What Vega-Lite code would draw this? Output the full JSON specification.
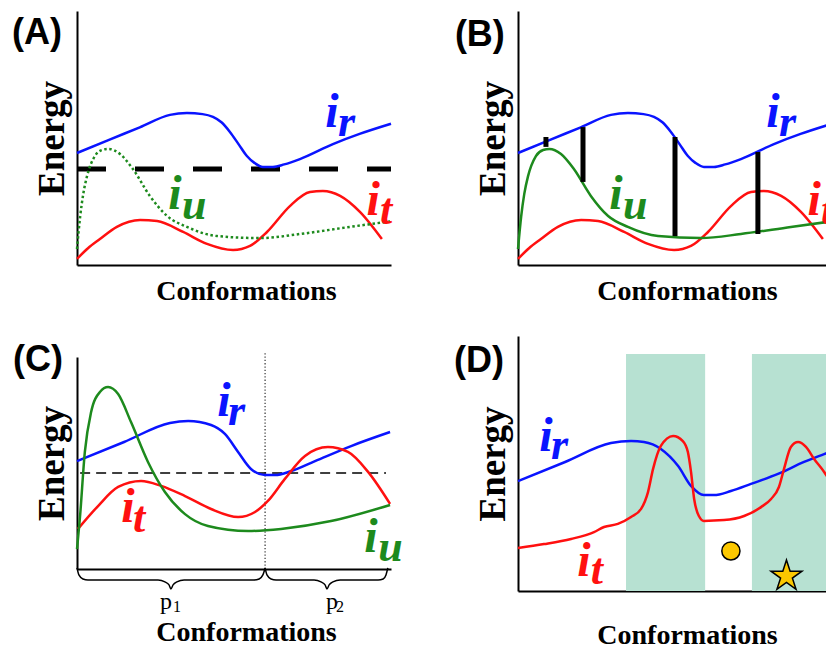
{
  "$schema": "https://vega.github.io/schema/vega-lite/v6.json",
  "background": "white",
  "padding": {"left": 12, "top": 11, "right": 0, "bottom": 0},
  "autosize": {"type": "pad"},
  "config": {
    "view": {"stroke": null},
    "axis": {"domainColor": "black", "domainWidth": 2, "ticks": false, "labels": false, "grid": false, "titleFont": "Liberation Serif", "titleFontWeight": "bold", "titleColor": "black"},
    "axisX": {"titleFontSize": 28, "titleX": 169, "titlePadding": 12},
    "axisY": {"titleFontSize": 37, "titlePadding": 6}
  },
  "datasets": {
    "curvesAB": [
      {"s": "r", "x": 0, "y": 44.1}, {"s": "r", "x": 10, "y": 49.2}, {"s": "r", "x": 20, "y": 54.2}, {"s": "r", "x": 29.6, "y": 59.1}, {"s": "r", "x": 35, "y": 59.8}, {"s": "r", "x": 40, "y": 59.4}, {"s": "r", "x": 43.3, "y": 58.3}, {"s": "r", "x": 46, "y": 56.2}, {"s": "r", "x": 48.7, "y": 52.4}, {"s": "r", "x": 51.5, "y": 47.5}, {"s": "r", "x": 54.1, "y": 42.9}, {"s": "r", "x": 56.5, "y": 40.2}, {"s": "r", "x": 59.2, "y": 38.6}, {"s": "r", "x": 62.4, "y": 38.6}, {"s": "r", "x": 66, "y": 39.6}, {"s": "r", "x": 71, "y": 41.7}, {"s": "r", "x": 81.5, "y": 47.6}, {"s": "r", "x": 90, "y": 51.6}, {"s": "r", "x": 100, "y": 55.6},
      {"s": "t", "x": 0, "y": 2.4}, {"s": "t", "x": 3.5, "y": 6.6}, {"s": "t", "x": 7.3, "y": 10.2}, {"s": "t", "x": 12.7, "y": 15}, {"s": "t", "x": 20.1, "y": 17.7}, {"s": "t", "x": 25.5, "y": 17.3}, {"s": "t", "x": 33.8, "y": 13}, {"s": "t", "x": 41.4, "y": 8.3}, {"s": "t", "x": 49.7, "y": 5.9}, {"s": "t", "x": 55.1, "y": 7.5}, {"s": "t", "x": 60.5, "y": 13}, {"s": "t", "x": 67.8, "y": 23.2}, {"s": "t", "x": 74.2, "y": 28.7}, {"s": "t", "x": 78.3, "y": 29.1}, {"s": "t", "x": 83.8, "y": 27.2}, {"s": "t", "x": 90.1, "y": 20.9}, {"s": "t", "x": 97.1, "y": 10.2},
      {"s": "u", "x": 0, "y": 6.3}, {"s": "u", "x": 1, "y": 19}, {"s": "u", "x": 2, "y": 28}, {"s": "u", "x": 3.2, "y": 35}, {"s": "u", "x": 5.7, "y": 42.9}, {"s": "u", "x": 8, "y": 45.3}, {"s": "u", "x": 10, "y": 45.7}, {"s": "u", "x": 13.7, "y": 43.7}, {"s": "u", "x": 17.8, "y": 37.8}, {"s": "u", "x": 23.2, "y": 27.2}, {"s": "u", "x": 28.7, "y": 19.3}, {"s": "u", "x": 35, "y": 15}, {"s": "u", "x": 44.6, "y": 11.4}, {"s": "u", "x": 58.3, "y": 10.6}, {"s": "u", "x": 71, "y": 12.2}, {"s": "u", "x": 86.9, "y": 15}, {"s": "u", "x": 100, "y": 17.2}
    ],
    "curvesC": [
      {"s": "r", "x": 0, "y": 50.9}, {"s": "r", "x": 15, "y": 59.9}, {"s": "r", "x": 29.6, "y": 68.9}, {"s": "r", "x": 35.4, "y": 69.8}, {"s": "r", "x": 42.7, "y": 67.9}, {"s": "r", "x": 47.1, "y": 63.7}, {"s": "r", "x": 51.3, "y": 55.2}, {"s": "r", "x": 55.4, "y": 47.2}, {"s": "r", "x": 59.9, "y": 44.3}, {"s": "r", "x": 63.1, "y": 44.3}, {"s": "r", "x": 68.2, "y": 46.2}, {"s": "r", "x": 75.8, "y": 50.9}, {"s": "r", "x": 87.3, "y": 58}, {"s": "r", "x": 99.7, "y": 64.6},
      {"s": "t", "x": 0.3, "y": 18.9}, {"s": "t", "x": 6.7, "y": 29.7}, {"s": "t", "x": 13.1, "y": 38.7}, {"s": "t", "x": 20.4, "y": 41.5}, {"s": "t", "x": 26.8, "y": 39.2}, {"s": "t", "x": 34.4, "y": 34.4}, {"s": "t", "x": 42.7, "y": 28.3}, {"s": "t", "x": 51.3, "y": 24.5}, {"s": "t", "x": 56.7, "y": 26.9}, {"s": "t", "x": 60.8, "y": 32.1}, {"s": "t", "x": 66.2, "y": 42.5}, {"s": "t", "x": 72.6, "y": 53.3}, {"s": "t", "x": 79.9, "y": 57.5}, {"s": "t", "x": 86.3, "y": 55.2}, {"s": "t", "x": 92.7, "y": 45.8}, {"s": "t", "x": 99.7, "y": 30.7},
      {"s": "u", "x": 0, "y": 9.4}, {"s": "u", "x": 0.9, "y": 23.6}, {"s": "u", "x": 2.5, "y": 55.2}, {"s": "u", "x": 4.5, "y": 74.1}, {"s": "u", "x": 7.3, "y": 83.5}, {"s": "u", "x": 9.9, "y": 85.8}, {"s": "u", "x": 13.1, "y": 82.5}, {"s": "u", "x": 17.2, "y": 69.3}, {"s": "u", "x": 22.6, "y": 50.5}, {"s": "u", "x": 28, "y": 36.3}, {"s": "u", "x": 34.4, "y": 25.9}, {"s": "u", "x": 41.7, "y": 20.3}, {"s": "u", "x": 54.5, "y": 17.9}, {"s": "u", "x": 65, "y": 18.9}, {"s": "u", "x": 80.9, "y": 22.6}, {"s": "u", "x": 99.7, "y": 30.2}
    ],
    "curvesD": [
      {"s": "r", "x": 0, "y": 43.1}, {"s": "r", "x": 15, "y": 50.6}, {"s": "r", "x": 29.6, "y": 58}, {"s": "r", "x": 36, "y": 58.8}, {"s": "r", "x": 40.1, "y": 58.4}, {"s": "r", "x": 45.5, "y": 55.7}, {"s": "r", "x": 51, "y": 49}, {"s": "r", "x": 55.1, "y": 41.2}, {"s": "r", "x": 59.2, "y": 37.6}, {"s": "r", "x": 62.4, "y": 37.6}, {"s": "r", "x": 67.8, "y": 39.2}, {"s": "r", "x": 74.2, "y": 42}, {"s": "r", "x": 82.8, "y": 45.9}, {"s": "r", "x": 91.1, "y": 50.6}, {"s": "r", "x": 97.5, "y": 53.7}, {"s": "r", "x": 100, "y": 54.9},
      {"s": "t", "x": 0, "y": 16.9}, {"s": "t", "x": 8.3, "y": 18.4}, {"s": "t", "x": 16.9, "y": 20.4}, {"s": "t", "x": 24.2, "y": 23.1}, {"s": "t", "x": 27.4, "y": 25.1}, {"s": "t", "x": 31.8, "y": 26.3}, {"s": "t", "x": 36, "y": 29}, {"s": "t", "x": 39.2, "y": 32.2}, {"s": "t", "x": 41.4, "y": 38.8}, {"s": "t", "x": 43, "y": 47.8}, {"s": "t", "x": 45.5, "y": 56.9}, {"s": "t", "x": 49.4, "y": 60.8}, {"s": "t", "x": 52.5, "y": 58.8}, {"s": "t", "x": 54.1, "y": 54.5}, {"s": "t", "x": 55.1, "y": 46.7}, {"s": "t", "x": 56.1, "y": 36.1}, {"s": "t", "x": 57.6, "y": 29.4}, {"s": "t", "x": 59.2, "y": 27.5}, {"s": "t", "x": 65.6, "y": 27.8}, {"s": "t", "x": 72, "y": 29.4}, {"s": "t", "x": 77.4, "y": 32.9}, {"s": "t", "x": 80.6, "y": 36.1}, {"s": "t", "x": 83.1, "y": 40.8}, {"s": "t", "x": 84.7, "y": 47.8}, {"s": "t", "x": 86.9, "y": 56.5}, {"s": "t", "x": 89.2, "y": 58.4}, {"s": "t", "x": 91.7, "y": 56.5}, {"s": "t", "x": 94.3, "y": 51.8}, {"s": "t", "x": 97.5, "y": 46.7}, {"s": "t", "x": 100, "y": 42}
    ],
    "braces": [
      {"id": 1, "x": 0, "y": 0.5}, {"id": 1, "x": 0.6, "y": -2.8}, {"id": 1, "x": 1.9, "y": -4.7}, {"id": 1, "x": 3.5, "y": -5.2}, {"id": 1, "x": 25.8, "y": -5.2}, {"id": 1, "x": 28, "y": -6.1}, {"id": 1, "x": 29.3, "y": -7.5}, {"id": 1, "x": 29.9, "y": -9.4}, {"id": 1, "x": 30.6, "y": -7.5}, {"id": 1, "x": 31.8, "y": -6.1}, {"id": 1, "x": 34.1, "y": -5.2}, {"id": 1, "x": 56.4, "y": -5.2}, {"id": 1, "x": 58, "y": -4.7}, {"id": 1, "x": 59.2, "y": -2.8}, {"id": 1, "x": 59.9, "y": 0.5},
      {"id": 2, "x": 59.9, "y": 0.5}, {"id": 2, "x": 60.5, "y": -2.8}, {"id": 2, "x": 61.8, "y": -4.7}, {"id": 2, "x": 63.4, "y": -5.2}, {"id": 2, "x": 75.5, "y": -5.2}, {"id": 2, "x": 77.7, "y": -6.1}, {"id": 2, "x": 79, "y": -7.5}, {"id": 2, "x": 79.6, "y": -9.4}, {"id": 2, "x": 80.3, "y": -7.5}, {"id": 2, "x": 81.5, "y": -6.1}, {"id": 2, "x": 83.8, "y": -5.2}, {"id": 2, "x": 95.9, "y": -5.2}, {"id": 2, "x": 97.5, "y": -4.7}, {"id": 2, "x": 98.4, "y": -2.8}, {"id": 2, "x": 99, "y": 0.5}
    ],
    "labels": [
      {"panel": "AB", "kind": "main", "s": "r", "text": "i", "x": 81.2, "y": 54.3}, {"panel": "AB", "kind": "sub", "s": "r", "text": "r", "x": 83.1, "y": 50.8},
      {"panel": "AB", "kind": "main", "s": "u", "text": "i", "x": 31.2, "y": 22}, {"panel": "AB", "kind": "sub", "s": "u", "text": "u", "x": 33.4, "y": 18.1},
      {"panel": "AB", "kind": "main", "s": "t", "text": "i", "x": 94.3, "y": 19.7}, {"panel": "AB", "kind": "sub", "s": "t", "text": "t", "x": 96.5, "y": 16.1},
      {"panel": "C", "kind": "main", "s": "r", "text": "i", "x": 46.8, "y": 72.2}, {"panel": "C", "kind": "sub", "s": "r", "text": "r", "x": 48.1, "y": 67.9},
      {"panel": "C", "kind": "main", "s": "t", "text": "i", "x": 16.2, "y": 22.2}, {"panel": "C", "kind": "sub", "s": "t", "text": "t", "x": 17.8, "y": 17.5},
      {"panel": "C", "kind": "main", "s": "u", "text": "i", "x": 93.6, "y": 8}, {"panel": "C", "kind": "sub", "s": "u", "text": "u", "x": 95.9, "y": 3.8},
      {"panel": "D", "kind": "main", "s": "r", "text": "i", "x": 8.9, "y": 54.9}, {"panel": "D", "kind": "sub", "s": "r", "text": "r", "x": 10.5, "y": 51.8},
      {"panel": "D", "kind": "main", "s": "t", "text": "i", "x": 21, "y": 5.9}, {"panel": "D", "kind": "sub", "s": "t", "text": "t", "x": 23.2, "y": 2.7}
    ],
    "tags": [
      {"panel": "A", "text": "(A)", "x": -20.7, "y": 91.3},
      {"panel": "B", "text": "(B)", "x": -20.1, "y": 90.6},
      {"panel": "C", "text": "(C)", "x": -20.4, "y": 98.6},
      {"panel": "D", "text": "(D)", "x": -20.4, "y": 90.2}
    ],
    "plabels": [
      {"kind": "main", "text": "p", "x": 26.4, "y": -18.9}, {"kind": "sub", "text": "1", "x": 30.6, "y": -20.3},
      {"kind": "main", "text": "p", "x": 79.3, "y": -18.9}, {"kind": "sub", "text": "2", "x": 82.5, "y": -20.3}
    ],
    "rulesAB": [
      {"panel": "A", "kind": "dash", "x": 0, "x2": 100, "y": 37.8, "y2": 37.8},
      {"panel": "B", "kind": "bar", "x": 8.9, "x2": 8.9, "y": 46.5, "y2": 50.4},
      {"panel": "B", "kind": "bar", "x": 20.7, "x2": 20.7, "y": 32.7, "y2": 54.3},
      {"panel": "B", "kind": "bar", "x": 50, "x2": 50, "y": 11.4, "y2": 50.4},
      {"panel": "B", "kind": "bar", "x": 76.4, "x2": 76.4, "y": 12.2, "y2": 44.5}
    ],
    "rulesC": [
      {"kind": "vdot", "x": 59.9, "x2": 59.9, "y": 0, "y2": 102.4},
      {"kind": "hdash", "x": 1, "x2": 98.4, "y": 45.3, "y2": 45.3}
    ],
    "bands": [
      {"x": 34.4, "x2": 59.6, "y": 0, "y2": 92.9},
      {"x": 74.5, "x2": 105, "y": 0, "y2": 92.9}
    ],
    "symbols": [
      {"kind": "circle", "x": 67.8, "y": 15.7},
      {"kind": "star", "x": 85.5, "y": 5.8}
    ]
  },
  "spacing": 441,
  "bounds": "flush",
  "hconcat": [
    {
      "spacing": 92,
      "bounds": "flush",
      "vconcat": [
        {
          "width": 314, "height": 254,
          "encoding": {
            "x": {"field": "x", "type": "quantitative", "scale": {"domain": [0, 100], "nice": false, "zero": false}, "axis": {"title": "Conformations"}},
            "y": {"field": "y", "type": "quantitative", "scale": {"domain": [0, 100], "nice": false, "zero": false}, "axis": {"title": "Energy"}}
          },
          "layer": [
            {"data": {"name": "rulesAB"}, "transform": [{"filter": "datum.panel == 'A'"}], "mark": {"type": "rule", "strokeWidth": 5, "strokeDash": [29, 29], "color": "black"}, "encoding": {"x2": {"field": "x2"}}},
            {"data": {"name": "curvesAB"}, "transform": [{"filter": "datum.s != 'u'"}], "mark": {"type": "line", "interpolate": "monotone", "strokeWidth": 2.5}, "encoding": {"color": {"field": "s", "type": "nominal", "scale": {"domain": ["r", "t", "u"], "range": ["#0a14ff", "#ff1010", "#1d8a1d"]}, "legend": null}}},
            {"data": {"name": "curvesAB"}, "transform": [{"filter": "datum.s == 'u'"}], "mark": {"type": "line", "interpolate": "monotone", "strokeWidth": 2.5, "strokeDash": [2.5, 2.6], "color": "#1d8a1d"}, "encoding": {}},
            {"data": {"name": "labels"}, "transform": [{"filter": "datum.panel == 'AB' && datum.kind == 'main'"}], "mark": {"type": "text", "font": "Liberation Serif", "fontStyle": "italic", "fontWeight": "bold", "fontSize": 48, "align": "center", "baseline": "alphabetic"}, "encoding": {"text": {"field": "text"}, "color": {"field": "s", "type": "nominal", "legend": null}}},
            {"data": {"name": "labels"}, "transform": [{"filter": "datum.panel == 'AB' && datum.kind == 'sub'"}], "mark": {"type": "text", "font": "Liberation Serif", "fontStyle": "italic", "fontWeight": "bold", "fontSize": 44, "align": "left", "baseline": "alphabetic"}, "encoding": {"text": {"field": "text"}, "color": {"field": "s", "type": "nominal", "legend": null}}},
            {"data": {"name": "tags"}, "transform": [{"filter": "datum.panel == 'A'"}], "mark": {"type": "text", "font": "Liberation Sans", "fontWeight": "bold", "fontSize": 36, "align": "left", "baseline": "middle", "color": "black"}, "encoding": {"text": {"field": "text"}}}
          ]
        },
        {
          "width": 314, "height": 212,
          "encoding": {
            "x": {"field": "x", "type": "quantitative", "scale": {"domain": [0, 100], "nice": false, "zero": false}, "axis": {"title": "Conformations", "titlePadding": 49}},
            "y": {"field": "y", "type": "quantitative", "scale": {"domain": [0, 100], "nice": false, "zero": false}, "axis": {"title": "Energy"}}
          },
          "layer": [
            {"data": {"name": "rulesC"}, "transform": [{"filter": "datum.kind == 'vdot'"}], "mark": {"type": "rule", "strokeWidth": 1.2, "strokeDash": [1.3, 2], "color": "#333333"}, "encoding": {"y2": {"field": "y2"}}},
            {"data": {"name": "rulesC"}, "transform": [{"filter": "datum.kind == 'hdash'"}], "mark": {"type": "rule", "strokeWidth": 1.5, "strokeDash": [10, 6], "color": "black"}, "encoding": {"x2": {"field": "x2"}}},
            {"data": {"name": "curvesC"}, "mark": {"type": "line", "interpolate": "monotone", "strokeWidth": 2.5}, "encoding": {"color": {"field": "s", "type": "nominal", "scale": {"domain": ["r", "t", "u"], "range": ["#0a14ff", "#ff1010", "#1d8a1d"]}, "legend": null}}},
            {"data": {"name": "braces"}, "mark": {"type": "line", "interpolate": "monotone", "strokeWidth": 1.5, "color": "black"}, "encoding": {"detail": {"field": "id", "type": "nominal"}}},
            {"data": {"name": "labels"}, "transform": [{"filter": "datum.panel == 'C' && datum.kind == 'main'"}], "mark": {"type": "text", "font": "Liberation Serif", "fontStyle": "italic", "fontWeight": "bold", "fontSize": 48, "align": "center", "baseline": "alphabetic"}, "encoding": {"text": {"field": "text"}, "color": {"field": "s", "type": "nominal", "legend": null}}},
            {"data": {"name": "labels"}, "transform": [{"filter": "datum.panel == 'C' && datum.kind == 'sub'"}], "mark": {"type": "text", "font": "Liberation Serif", "fontStyle": "italic", "fontWeight": "bold", "fontSize": 44, "align": "left", "baseline": "alphabetic"}, "encoding": {"text": {"field": "text"}, "color": {"field": "s", "type": "nominal", "legend": null}}},
            {"data": {"name": "plabels"}, "transform": [{"filter": "datum.kind == 'main'"}], "mark": {"type": "text", "font": "Liberation Serif", "fontSize": 24, "align": "left", "baseline": "alphabetic", "color": "black"}, "encoding": {"text": {"field": "text"}}},
            {"data": {"name": "plabels"}, "transform": [{"filter": "datum.kind == 'sub'"}], "mark": {"type": "text", "font": "Liberation Serif", "fontSize": 16, "align": "left", "baseline": "alphabetic", "color": "black"}, "encoding": {"text": {"field": "text"}}},
            {"data": {"name": "tags"}, "transform": [{"filter": "datum.panel == 'C'"}], "mark": {"type": "text", "font": "Liberation Sans", "fontWeight": "bold", "fontSize": 36, "align": "left", "baseline": "middle", "color": "black"}, "encoding": {"text": {"field": "text"}}}
          ]
        }
      ]
    },
    {
      "spacing": 71,
      "bounds": "flush",
      "vconcat": [
        {
          "width": 314, "height": 254,
          "encoding": {
            "x": {"field": "x", "type": "quantitative", "scale": {"domain": [0, 100], "nice": false, "zero": false}, "axis": {"title": "Conformations"}},
            "y": {"field": "y", "type": "quantitative", "scale": {"domain": [0, 100], "nice": false, "zero": false}, "axis": {"title": "Energy"}}
          },
          "layer": [
            {"data": {"name": "curvesAB"}, "mark": {"type": "line", "interpolate": "monotone", "strokeWidth": 2.5}, "encoding": {"color": {"field": "s", "type": "nominal", "scale": {"domain": ["r", "t", "u"], "range": ["#0a14ff", "#ff1010", "#1d8a1d"]}, "legend": null}}},
            {"data": {"name": "rulesAB"}, "transform": [{"filter": "datum.panel == 'B'"}], "mark": {"type": "rule", "strokeWidth": 5, "color": "black"}, "encoding": {"y2": {"field": "y2"}}},
            {"data": {"name": "labels"}, "transform": [{"filter": "datum.panel == 'AB' && datum.kind == 'main'"}], "mark": {"type": "text", "font": "Liberation Serif", "fontStyle": "italic", "fontWeight": "bold", "fontSize": 48, "align": "center", "baseline": "alphabetic"}, "encoding": {"text": {"field": "text"}, "color": {"field": "s", "type": "nominal", "legend": null}}},
            {"data": {"name": "labels"}, "transform": [{"filter": "datum.panel == 'AB' && datum.kind == 'sub'"}], "mark": {"type": "text", "font": "Liberation Serif", "fontStyle": "italic", "fontWeight": "bold", "fontSize": 44, "align": "left", "baseline": "alphabetic"}, "encoding": {"text": {"field": "text"}, "color": {"field": "s", "type": "nominal", "legend": null}}},
            {"data": {"name": "tags"}, "transform": [{"filter": "datum.panel == 'B'"}], "mark": {"type": "text", "font": "Liberation Sans", "fontWeight": "bold", "fontSize": 36, "align": "left", "baseline": "middle", "color": "black"}, "encoding": {"text": {"field": "text"}}}
          ]
        },
        {
          "width": 314, "height": 255,
          "encoding": {
            "x": {"field": "x", "type": "quantitative", "scale": {"domain": [0, 100], "nice": false, "zero": false}, "axis": {"title": "Conformations", "titlePadding": 30}},
            "y": {"field": "y", "type": "quantitative", "scale": {"domain": [0, 100], "nice": false, "zero": false}, "axis": {"title": "Energy"}}
          },
          "layer": [
            {"data": {"name": "bands"}, "mark": {"type": "rect", "color": "#b7e1d2", "opacity": 1}, "encoding": {"x2": {"field": "x2"}, "y2": {"field": "y2"}}},
            {"data": {"name": "curvesD"}, "mark": {"type": "line", "interpolate": "monotone", "strokeWidth": 2.5}, "encoding": {"color": {"field": "s", "type": "nominal", "scale": {"domain": ["r", "t", "u"], "range": ["#0a14ff", "#ff1010", "#1d8a1d"]}, "legend": null}}},
            {"data": {"name": "symbols"}, "transform": [{"filter": "datum.kind == 'circle'"}], "mark": {"type": "point", "shape": "circle", "filled": true, "fill": "#fcc800", "stroke": "black", "strokeWidth": 1.5, "size": 330, "opacity": 1, "fillOpacity": 1, "strokeOpacity": 1}, "encoding": {}},
            {"data": {"name": "symbols"}, "transform": [{"filter": "datum.kind == 'star'"}], "mark": {"type": "point", "shape": "M0,-1L0.2245,-0.309L0.9511,-0.309L0.3633,0.118L0.5878,0.809L0,0.382L-0.5878,0.809L-0.3633,0.118L-0.9511,-0.309L-0.2245,-0.309Z", "filled": true, "fill": "#fcc800", "stroke": "black", "strokeWidth": 1.5, "size": 1063, "opacity": 1, "fillOpacity": 1, "strokeOpacity": 1}, "encoding": {}},
            {"data": {"name": "labels"}, "transform": [{"filter": "datum.panel == 'D' && datum.kind == 'main'"}], "mark": {"type": "text", "font": "Liberation Serif", "fontStyle": "italic", "fontWeight": "bold", "fontSize": 48, "align": "center", "baseline": "alphabetic"}, "encoding": {"text": {"field": "text"}, "color": {"field": "s", "type": "nominal", "legend": null}}},
            {"data": {"name": "labels"}, "transform": [{"filter": "datum.panel == 'D' && datum.kind == 'sub'"}], "mark": {"type": "text", "font": "Liberation Serif", "fontStyle": "italic", "fontWeight": "bold", "fontSize": 44, "align": "left", "baseline": "alphabetic"}, "encoding": {"text": {"field": "text"}, "color": {"field": "s", "type": "nominal", "legend": null}}},
            {"data": {"name": "tags"}, "transform": [{"filter": "datum.panel == 'D'"}], "mark": {"type": "text", "font": "Liberation Sans", "fontWeight": "bold", "fontSize": 36, "align": "left", "baseline": "middle", "color": "black"}, "encoding": {"text": {"field": "text"}}}
          ]
        }
      ]
    }
  ]
}
